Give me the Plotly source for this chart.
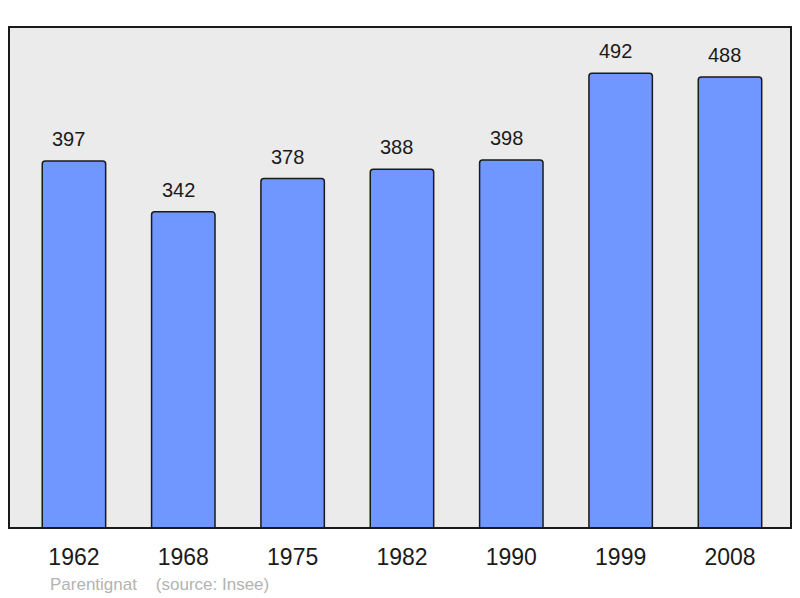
import plotly.graph_objects as go

years = ["1962", "1968", "1975", "1982", "1990", "1999", "2008"]
population = [397, 342, 378, 388, 398, 492, 488]
commune = "Parentignat"
source = "(source: Insee)"

W, H = 800, 598
L, R, T, B = 9, 9, 27, 70
pw = W - L - R
ph = H - T - B
FONT = "Liberation Sans, Arial, sans-serif"

fig = go.Figure()
fig.add_trace(go.Bar(
    x=list(range(len(years))), y=population,
    width=0.58,
    marker=dict(color="#7096ff", line=dict(color="#1a1a1a", width=1.5), cornerradius=3),
    hoverinfo="skip",
))

for i, v in enumerate(population):
    fig.add_annotation(x=i, y=v, text=str(v), showarrow=False, yshift=22, xshift=-5,
                       font=dict(family=FONT, size=20, color="#1a1a1a"))

fig.add_annotation(xref="paper", yref="paper", x=(48 - L) / pw, y=-(584 - (T + ph)) / ph,
                   xanchor="left", yanchor="middle", showarrow=False,
                   text=commune + "&nbsp;&nbsp;&nbsp;&nbsp;" + source,
                   font=dict(family=FONT, size=17, color="#b3b3b3"))

fig.add_shape(type="rect", xref="paper", yref="paper", x0=0, y0=0, x1=1, y1=1,
              line=dict(color="#1a1a1a", width=2), layer="above")

fig.update_layout(
    width=W, height=H,
    margin=dict(l=L, r=R, t=T, b=B),
    paper_bgcolor="white", plot_bgcolor="#ebebeb",
    showlegend=False,
    xaxis=dict(range=[-0.594, 6.558], tickvals=list(range(len(years))), ticktext=years,
               showgrid=False, zeroline=False, ticks="", ticklabelstandoff=13,
               tickfont=dict(family=FONT, size=23, color="#1a1a1a"),
               fixedrange=True),
    yaxis=dict(range=[0, 542], showgrid=False, zeroline=False, showticklabels=False, ticks="",
               fixedrange=True),
)

fig.write_html("out.html", config={"displayModeBar": False},
               post_script="document.body.style.margin='0';document.body.style.overflow='hidden';")
